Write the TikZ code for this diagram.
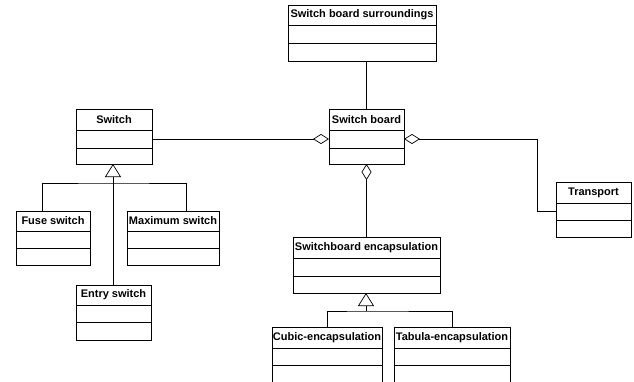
\documentclass[tikz,border=0pt]{standalone}
\usepackage{fontspec}
\setmainfont{Liberation Sans}
\usetikzlibrary{arrows.meta}
\tikzset{
  umlbox/.style={draw, line width=0.7pt, inner sep=0pt, outer sep=0pt, anchor=north west},
  umlhdr/.style={umlbox, font=\bfseries\fontsize{11}{13}\selectfont},
  conn/.style={line width=0.7pt},
  aggr/.style={conn, {Diamond[open, length=16pt, width=10pt, line width=0.7pt]}-},
  gen/.style={conn, -{Triangle[open, length=13pt, width=16pt, line width=0.7pt]}},
}
\newcommand{\umlclass}[8]{%
  \node[umlhdr, minimum width={(#3-#2)*1pt}, minimum height={(#5-#4)*1pt}] (#1) at (#2,#4) {#8};
  \node[umlbox, minimum width={(#3-#2)*1pt}, minimum height={(#6-#5)*1pt}] (#1-a) at (#1.south west) {};
  \node[umlbox, minimum width={(#3-#2)*1pt}, minimum height={(#7-#6)*1pt}] (#1-b) at (#1-a.south west) {};
}
\begin{document}
\begin{tikzpicture}[x=1pt, y=-1pt]
\useasboundingbox (0,0) rectangle (634,381);
\clip (0,0) rectangle (634,381);
\fill[white] (0,0) rectangle (634,381);
\umlclass{sbs}{288}{436}{5}{25}{43}{61}{Switch board surroundings}
\umlclass{sb}{329}{404}{109}{130}{148}{164}{Switch board}
\umlclass{sw}{76}{152}{109}{130}{148}{164}{Switch}
\umlclass{tr}{556}{631}{182}{203}{220}{237}{Transport}
\umlclass{sbe}{293}{440}{237}{258}{276}{293}{Switchboard encapsulation}
\umlclass{cu}{272}{382}{327}{348}{365}{390}{Cubic-encapsulation}
\umlclass{ta}{394}{510}{327}{348}{365}{390}{Tabula-encapsulation}
\umlclass{fu}{16}{90}{211}{231}{248}{265}{Fuse switch}
\umlclass{ma}{127}{219}{211}{231}{248}{265}{Maximum switch}
\umlclass{en}{76}{151}{285}{305}{322}{340}{Entry switch}
% associations
\draw[conn] (sb.north) -- (sb.north |- sbs-b.south);
\draw[aggr] (sb-a.west) -- (sw-a.east);
\coordinate (trbend) at (sb-a.east -| 537,0);
\draw[aggr] (sb-a.east) -- (trbend) |- (tr-a.west);
\draw[aggr] (sb-b.south) -- (sbe.north);
% generalization: switchboard encapsulation
\coordinate (ej) at (366,311);
\draw[conn] (cu.north) |- (ej) -| (ta.north);
\draw[gen] (ej) -- (ej |- sbe-b.south);
% generalization: switch
\coordinate (sj) at (113,183);
\draw[conn] (42,0 |- fu.north) |- (sj) -| (186,0 |- ma.north);
\draw[conn] (sj) -- (sj |- en.north);
\draw[gen] (sj) -- (sj |- sw-b.south);
\end{tikzpicture}
\end{document}
